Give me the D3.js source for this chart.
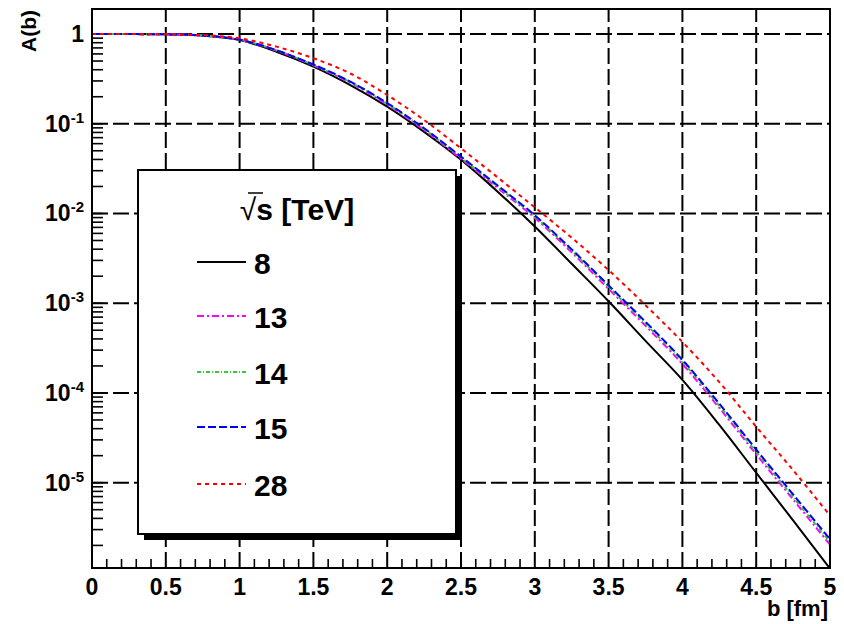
<!DOCTYPE html>
<html>
<head>
<meta charset="utf-8">
<script src="https://cdn.jsdelivr.net/npm/d3@7"></script>
<style>
  body { margin: 0; background: #fff; }
  text { font-family: "Liberation Sans", Arial, Helvetica, sans-serif; font-weight: bold; }
</style>
</head>
<body>
<div class="chart"></div>
<script>
// impact parameter b [fm]
const bValues = [0, 0.25, 0.5, 0.75, 1, 1.25, 1.5, 1.75, 2, 2.25, 2.5, 2.75, 3, 3.25, 3.5, 3.75, 4, 4.25, 4.5, 4.75, 5];

// A(b) for each sqrt(s)
const a8  = [1, 0.998, 0.991, 0.959, 0.855, 0.635, 0.433, 0.270, 0.155, 0.0813, 0.0398, 0.0174, 0.00716, 0.00275, 0.00105, 3.8e-4, 1.40e-4, 4.4e-5, 1.29e-5, 3.8e-6, 1.10e-6];
const a13 = [1, 0.998, 0.991, 0.962, 0.863, 0.653, 0.447, 0.286, 0.163, 0.0850, 0.0408, 0.0191, 0.00893, 0.00369, 0.00144, 5.6e-4, 2.10e-4, 6.8e-5, 2.07e-5, 6.5e-6, 2.04e-6];
const a14 = [1, 0.998, 0.991, 0.963, 0.865, 0.657, 0.452, 0.291, 0.167, 0.0872, 0.0420, 0.0198, 0.00925, 0.00384, 0.00151, 5.9e-4, 2.22e-4, 7.2e-5, 2.2e-5, 6.9e-6, 2.18e-6];
const a15 = [1, 0.998, 0.991, 0.964, 0.867, 0.661, 0.457, 0.295, 0.170, 0.0891, 0.0430, 0.0204, 0.00955, 0.00398, 0.00158, 6.2e-4, 2.34e-4, 7.6e-5, 2.34e-5, 7.4e-6, 2.34e-6];
const a28 = [1, 0.998, 0.993, 0.973, 0.895, 0.723, 0.537, 0.363, 0.209, 0.110, 0.0532, 0.0251, 0.0117, 0.00537, 0.00234, 9.5e-4, 3.7e-4, 1.32e-4, 4.2e-5, 1.38e-5, 4.3e-6];

const energies = ["8", "13", "14", "15", "28"];
const xTicks = [0, 0.5, 1, 1.5, 2, 2.5, 3, 3.5, 4, 4.5, 5];
const xTickLabels = ["0", "0.5", "1", "1.5", "2", "2.5", "3", "3.5", "4", "4.5", "5"];
const yTicks = [1, 1e-1, 1e-2, 1e-3, 1e-4, 1e-5];
const yTickExps = ["", "-1", "-2", "-3", "-4", "-5"];

const seriesValues = [a8, a13, a14, a15, a28];
const seriesStyle = [
    { color: "#000000", dash: null },
    { color: "#ff00ff", dash: "7,3,2,3" },
    { color: "#33cc33", dash: "4,2,1,2" },
    { color: "#0000ff", dash: "8,3" },
    { color: "#ff0000", dash: "4,4" }
];

const width = 844, height = 624;
const plotLeft = 92, plotRight = 830, plotTop = 9, plotBottom = 568;

const svg = d3.select(".chart").append("svg").attr("width", width).attr("height", height);

const x = d3.scaleLinear().domain([0, 5]).range([plotLeft, plotRight]);
const y = d3.scaleLog().domain([1.12e-6, 1.9]).range([plotBottom, plotTop]);

// grid
const grid = svg.append("g").attr("class", "grid")
    .attr("stroke", "#000").attr("stroke-width", 2).attr("stroke-dasharray", "16,5");
grid.selectAll(".vgrid").data(xTicks.slice(1, -1)).enter().append("line")
    .attr("x1", d => x(d)).attr("x2", d => x(d)).attr("y1", plotBottom).attr("y2", plotTop);
grid.selectAll(".hgrid").data(yTicks).enter().append("line")
    .attr("x1", plotLeft).attr("x2", plotRight).attr("y1", d => y(d)).attr("y2", d => y(d));

// minor ticks
const xMinor = d3.range(0, 51).map(i => i / 10).filter((v, i) => i % 5 !== 0);
svg.append("g").selectAll("line").data(xMinor).enter().append("line")
    .attr("x1", d => x(d)).attr("x2", d => x(d)).attr("y1", plotBottom).attr("y2", plotBottom - 9)
    .attr("stroke", "#000").attr("stroke-width", 1.6);

const yMinor = [];
for (let e = -6; e <= 0; e++) {
    for (let m = 1; m < 10; m++) {
        const v = m * Math.pow(10, e);
        if (v >= 1.12e-6 && v <= 1.9) yMinor.push(v);
    }
}
svg.append("g").selectAll("line").data(yMinor).enter().append("line")
    .attr("x1", plotLeft).attr("x2", plotLeft + 11).attr("y1", d => y(d)).attr("y2", d => y(d))
    .attr("stroke", "#000").attr("stroke-width", 1.6);

// curves
const line = d3.line().x(d => x(d[0])).y(d => y(d[1])).curve(d3.curveCatmullRom);
for (let i = 0; i < seriesValues.length; i++) {
    const pts = bValues.map((b, j) => [b, seriesValues[i][j]]);
    svg.append("path").datum(pts).attr("d", line)
        .attr("fill", "none").attr("stroke", seriesStyle[i].color).attr("stroke-width", 2)
        .attr("stroke-dasharray", seriesStyle[i].dash);
}

// frame
svg.append("rect").attr("x", plotLeft).attr("y", plotTop).attr("width", plotRight - plotLeft).attr("height", plotBottom - plotTop)
    .attr("fill", "none").attr("stroke", "#000").attr("stroke-width", 2);

// tick labels
svg.append("g").selectAll("text").data(xTicks).enter().append("text")
    .attr("x", d => x(d)).attr("y", 595).attr("text-anchor", "middle")
    .attr("font-size", 23).text((d, i) => xTickLabels[i]);

const yLab = svg.append("g").selectAll("text").data(yTicks).enter().append("text")
    .attr("x", 84).attr("y", d => y(d) + 8).attr("text-anchor", "end").attr("font-size", 23);
yLab.each(function(d, i) {
    const t = d3.select(this);
    if (yTickExps[i] === "") {
        t.text("1");
    } else {
        t.append("tspan").text("10");
        t.append("tspan").attr("dy", -9).attr("font-size", 15).text(yTickExps[i]);
    }
});

// axis titles
svg.append("text").attr("x", 828).attr("y", 616).attr("text-anchor", "end")
    .attr("font-size", 22).text("b [fm]");
svg.append("text").attr("transform", "translate(36,10) rotate(-90)").attr("text-anchor", "end")
    .attr("font-size", 21).text("A(b)");

// legend
const lx = 138, ly = 170, lw = 318, lh = 364;
svg.append("rect").attr("x", lx + 6).attr("y", ly + 6).attr("width", lw).attr("height", lh).attr("fill", "#000");
svg.append("rect").attr("x", lx).attr("y", ly).attr("width", lw).attr("height", lh)
    .attr("fill", "#fff").attr("stroke", "#000").attr("stroke-width", 2);

const header = svg.append("text").attr("x", 297).attr("y", 220).attr("text-anchor", "middle").attr("font-size", 30);
header.append("tspan").attr("font-weight", "normal").text("\u221A");
header.append("tspan").text("s [TeV]");
svg.append("line").attr("x1", 248).attr("x2", 263).attr("y1", 193).attr("y2", 193)
    .attr("stroke", "#000").attr("stroke-width", 1.5);

const entryY = [262, 316, 372, 427, 484];
for (let i = 0; i < energies.length; i++) {
    svg.append("line").attr("x1", 197).attr("x2", 246).attr("y1", entryY[i]).attr("y2", entryY[i])
        .attr("stroke", seriesStyle[i].color).attr("stroke-width", 2)
        .attr("stroke-dasharray", seriesStyle[i].dash);
    svg.append("text").attr("x", 254).attr("y", entryY[i] + 12).attr("font-size", 30).text(energies[i]);
}
</script>
</body>
</html>
